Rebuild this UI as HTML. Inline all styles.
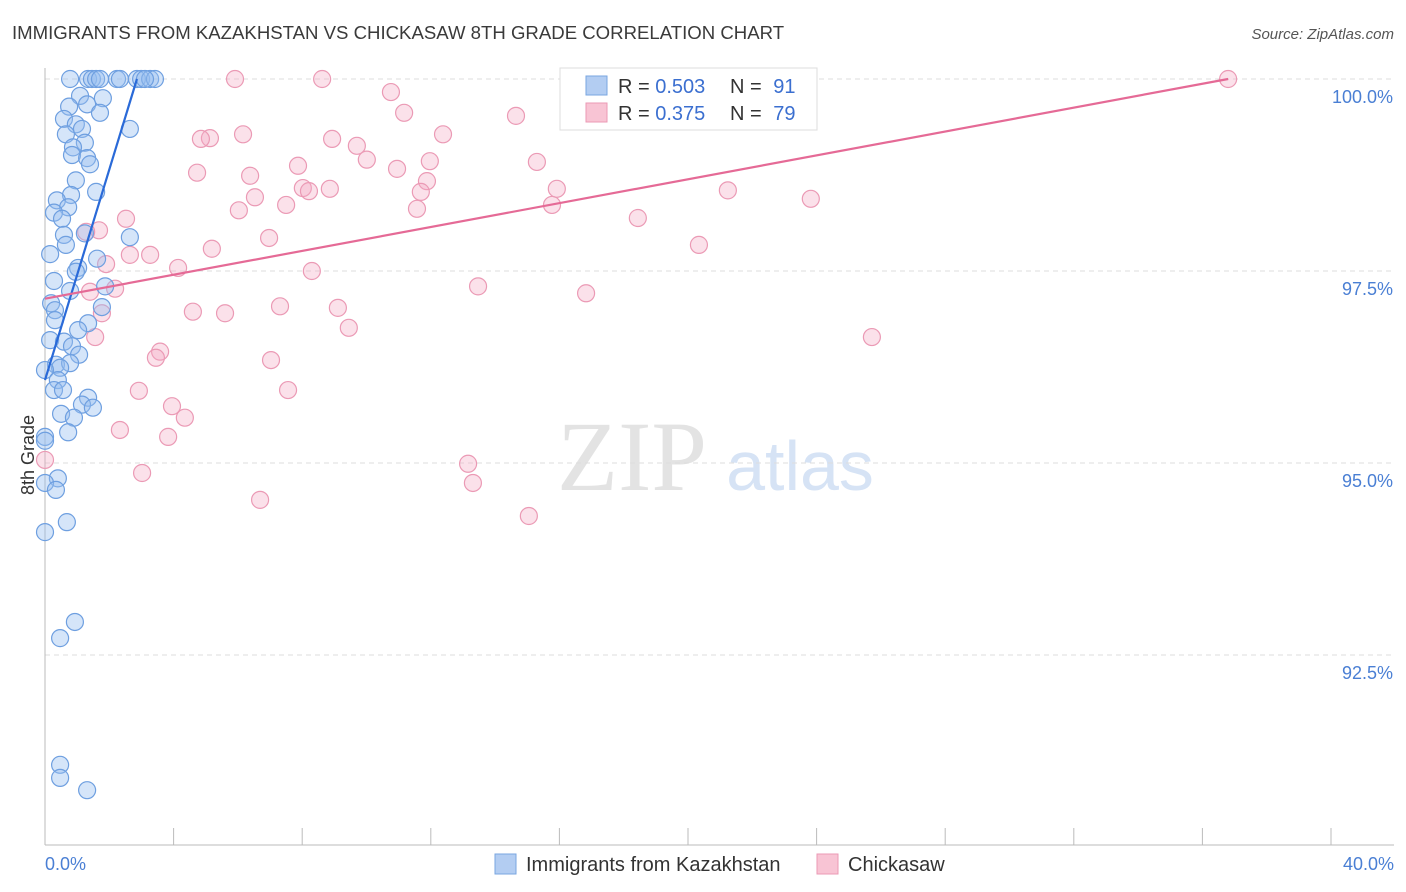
<!DOCTYPE html>
<html><head><meta charset="utf-8"><style>
body{margin:0;background:#fff;font-family:"Liberation Sans",sans-serif}
svg{display:block}
</style></head><body>
<svg id="chart" width="1406" height="892" xmlns="http://www.w3.org/2000/svg">
<text x="12" y="39" font-size="18.6" fill="#3a3a3a" font-family="Liberation Sans">IMMIGRANTS FROM KAZAKHSTAN VS CHICKASAW 8TH GRADE CORRELATION CHART</text>
<text x="1394" y="39" font-size="15" fill="#555" text-anchor="end" font-style="italic">Source: ZipAtlas.com</text>
<text transform="translate(34,455) rotate(-90)" font-size="18" fill="#333" text-anchor="middle">8th Grade</text>
<g><text x="632" y="490" font-size="100" fill="#e3e3e3" font-family="Liberation Serif" text-anchor="middle">ZIP</text><text x="800" y="490" font-size="70" fill="#d6e3f5" text-anchor="middle">atlas</text></g>
<g id="grid"></g><g id="axes"></g><g id="marks"></g>
<g>
<rect x="560" y="68" width="257" height="62" fill="#fff" stroke="#ddd"/>
<rect x="586" y="76" width="21" height="19" fill="#b3cdf2" stroke="#7aa6e0"/>
<rect x="586" y="103" width="21" height="19" fill="#f8c4d4" stroke="#eb9ab5"/>
<text x="618" y="93" font-size="20" fill="#333">R = <tspan fill="#3b6fd0">0.503</tspan></text>
<text x="730" y="93" font-size="20" fill="#333">N = <tspan fill="#3b6fd0" dx="6">91</tspan></text>
<text x="618" y="120" font-size="20" fill="#333">R = <tspan fill="#3b6fd0">0.375</tspan></text>
<text x="730" y="120" font-size="20" fill="#333">N = <tspan fill="#3b6fd0" dx="6">79</tspan></text>
</g>
<g>
<rect x="495" y="854" width="21" height="20" fill="#b3cdf2" stroke="#7aa6e0"/>
<text x="526" y="871" font-size="20" fill="#333">Immigrants from Kazakhstan</text>
<rect x="817" y="854" width="21" height="20" fill="#f8c4d4" stroke="#eb9ab5"/>
<text x="848" y="871" font-size="20" fill="#333">Chickasaw</text>
</g>
</svg>
<script>
const blueX=[0.78,1.34,1.46,1.59,1.71,2.24,2.33,2.86,2.99,3.27,3.42,3.11,1.09,0.75,1.31,1.80,1.71,0.59,0.96,1.15,0.65,1.24,0.87,0.84,1.31,1.40,2.64,0.96,0.81,1.59,0.37,0.72,0.28,0.53,0.59,1.24,2.64,0.65,0.16,1.62,1.03,0.96,0.28,0.78,1.87,0.19,0.31,1.77,0.31,1.34,1.03,0.16,0.59,0.84,1.06,0.34,0.78,0.47,0,0.40,0.28,0.56,1.34,1.15,1.49,0.50,0.90,0.72,0,0,0.40,0,0.34,0.68,0,0.93,0.47,0.47,0.47,1.31];
const blueY=[100,100,100,100,100,100,100,100,100,100,100,100,99.78,99.64,99.67,99.75,99.56,99.48,99.41,99.35,99.28,99.17,99.11,99.01,98.97,98.89,99.35,98.68,98.49,98.53,98.42,98.33,98.26,98.18,97.97,97.99,97.94,97.84,97.72,97.66,97.54,97.49,97.37,97.24,97.30,97.08,96.99,97.03,96.86,96.82,96.73,96.60,96.58,96.52,96.41,96.28,96.30,96.24,96.21,96.08,95.95,95.95,95.85,95.76,95.72,95.64,95.59,95.40,95.34,95.29,94.80,94.74,94.65,94.23,94.10,92.93,92.72,91.07,90.90,90.74];
const pinkX=[5.91,8.62,16.55,18.29,21.90,36.80,10.76,11.17,14.65,5.13,4.85,6.16,12.38,8.93,9.70,10.01,7.87,11.97,15.30,4.73,6.38,10.95,11.88,8.02,8.86,8.21,15.92,11.69,6.53,7.50,21.24,23.82,6.03,11.57,15.77,2.52,18.44,1.68,1.28,6.97,5.19,2.64,3.27,20.34,1.90,4.14,8.30,13.47,1.40,2.18,16.83,7.31,4.60,5.60,9.11,1.77,9.45,25.72,1.56,3.58,3.45,7.03,2.92,7.56,3.95,4.35,2.33,3.83,0,3.02,13.16,13.31,6.69,15.05];
const pinkY=[100,100,100,100,100,100,99.83,99.56,99.52,99.23,99.22,99.28,99.28,99.22,99.13,98.95,98.87,98.93,98.92,98.78,98.74,98.83,98.67,98.58,98.57,98.54,98.57,98.53,98.46,98.36,98.55,98.44,98.29,98.31,98.36,98.18,98.19,98.03,98.01,97.93,97.79,97.71,97.71,97.84,97.59,97.54,97.50,97.30,97.23,97.27,97.21,97.04,96.97,96.95,97.02,96.95,96.76,96.64,96.64,96.45,96.37,96.34,95.94,95.95,95.74,95.59,95.43,95.34,95.04,94.87,94.99,94.74,94.52,94.31];
const blueTrendX=[0,2.86], blueTrendY=[96.08,100];
const pinkTrendX=[0,36.8], pinkTrendY=[97.14,100];
const yTicks=[100,97.5,95,92.5];
const yTickLabels=["100.0%","97.5%","95.0%","92.5%"];
const xTicks=[0,4,8,12,16,20,24,28,32,36,40];
const X0=45,X1=1331,Y100=79,PXPER=76.8,BOTTOM=845;
const sx=v=>X0+(v/40)*(X1-X0);
const sy=v=>Y100+(100-v)*PXPER;
const NS="http://www.w3.org/2000/svg";
function mk(tag,attrs,parent){const e=document.createElementNS(NS,tag);for(const k in attrs)e.setAttribute(k,attrs[k]);document.getElementById(parent).appendChild(e);return e;}
yTicks.forEach((t,i)=>{
 const l=mk('line',{x1:X0,x2:1394,y1:sy(t),y2:sy(t),stroke:'#ddd','stroke-dasharray':'5,4'},'grid');
 
 
 const tx=mk('text',{x:1393,y:sy(t)+24,'font-size':18,fill:'#4a7fd4','text-anchor':'end'},'axes');
 tx.textContent=yTickLabels[i];
 
 
});
const ax=mk('line',{x1:X0,x2:X0,y1:68,y2:BOTTOM,stroke:'#bbb'},'axes');


const bx=mk('line',{x1:X0,x2:1394,y1:BOTTOM,y2:BOTTOM,stroke:'#bbb'},'axes');


xTicks.forEach(t=>{
 const l=mk('line',{x1:sx(t),x2:sx(t),y1:828,y2:BOTTOM,stroke:'#bbb'},'axes');
 
 
});
const xl0=mk('text',{x:45,y:870,'font-size':18,fill:'#4a7fd4'},'axes');xl0.textContent='0.0%';


const xl1=mk('text',{x:1394,y:870,'font-size':18,fill:'#4a7fd4','text-anchor':'end'},'axes');xl1.textContent='40.0%';


pinkX.forEach((v,i)=>{
 const c=mk('circle',{cx:sx(v),cy:sy(pinkY[i]),r:8.5,fill:'rgba(244,170,196,0.35)',stroke:'#eb9ab5','stroke-width':1.2},'marks');
 
 
});
blueX.forEach((v,i)=>{
 const c=mk('circle',{cx:sx(v),cy:sy(blueY[i]),r:8.5,fill:'rgba(150,190,240,0.4)',stroke:'#6e9fe0','stroke-width':1.2},'marks');
 
 
});
const bl=mk('line',{x1:sx(blueTrendX[0]),y1:sy(blueTrendY[0]),x2:sx(blueTrendX[1]),y2:sy(blueTrendY[1]),stroke:'#2a6ad8','stroke-width':2.2},'marks');


const pl=mk('line',{x1:sx(pinkTrendX[0]),y1:sy(pinkTrendY[0]),x2:sx(pinkTrendX[1]),y2:sy(pinkTrendY[1]),stroke:'#e56a96','stroke-width':2.2},'marks');


</script>
</body></html>
